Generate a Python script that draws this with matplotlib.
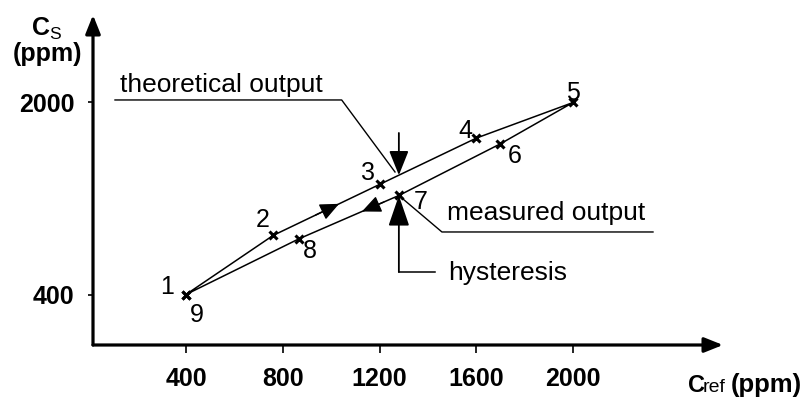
import matplotlib
matplotlib.use("Agg")
import matplotlib.pyplot as plt

plt.rcParams['font.family'] = ['Liberation Sans', 'DejaVu Sans']
plt.rcParams['mathtext.fontset'] = 'custom'
plt.rcParams['mathtext.rm'] = 'Liberation Sans'

# ---- data ----
cref = [400, 760, 1200, 1600, 2000, 1700, 1280, 867, 400]
cs = [400, 892, 1317, 1703, 2000, 1656, 1225, 864, 400]
point_labels = ['1', '2', '3', '4', '5', '6', '7', '8', '9']
x_ticks = [400, 800, 1200, 1600, 2000]
x_tick_labels = ['400', '800', '1200', '1600', '2000']
y_ticks = [400, 2000]
y_tick_labels = ['400', '2000']

# label offsets (points) for each numbered point
label_offsets = [(-13.7, 5.4), (-7.2, 10.8), (-8.6, 8.6), (-7.9, 5.0), (0, 6.8),
                 (10.4, -9.0), (15.5, -5.0), (7.9, -8.6), (7.9, -14.8)]

fig = plt.figure(figsize=(8.07, 3.97), dpi=100)
ax = fig.add_axes([93/807, (397-345)/397, (723-93)/807, (345-15)/397])
ax.set_xlim(15.6, 2619.9)
ax.set_ylim(-20.8, 2729)
for s in ax.spines.values():
    s.set_visible(False)
ax.patch.set_visible(False)

# axes with arrows
axis_arrow = dict(arrowstyle='-|>,head_length=0.75,head_width=0.3',
                  lw=2.3, color='black', shrinkA=0, shrinkB=0, mutation_scale=15)
ax.annotate('', xy=(1, 0), xytext=(0, 0), xycoords='axes fraction',
            arrowprops=axis_arrow, annotation_clip=False)
ax.annotate('', xy=(0, 1), xytext=(0, 0), xycoords='axes fraction',
            arrowprops=axis_arrow, annotation_clip=False)

ax.set_xticks(x_ticks)
ax.set_xticklabels(x_tick_labels, fontsize=18, fontweight='bold')
ax.set_yticks(y_ticks)
ax.set_yticklabels(y_tick_labels, fontsize=18, fontweight='bold')
ax.tick_params(axis='x', direction='out', length=5.5, width=1.2, pad=10)
ax.tick_params(axis='y', direction='out', length=3.5, width=1.2, pad=10)

# hysteresis loop
ax.plot(cref, cs, color='black', lw=1.1, marker='x', ms=5.5, mew=2.2, clip_on=False)

for x, y, lab, (dx, dy) in zip(cref, cs, point_labels, label_offsets):
    ax.annotate(lab, xy=(x, y), xytext=(dx, dy), textcoords='offset points',
                ha='center', va='center', fontsize=18)

# direction arrows on the loop
def along(i, j, t):
    return (cref[i] + t*(cref[j]-cref[i]), cs[i] + t*(cs[j]-cs[i]))

small = dict(arrowstyle='-|>,head_length=0.9,head_width=0.4', lw=1.0,
             color='black', shrinkA=0, shrinkB=0, mutation_scale=13)
ax.annotate('', xy=along(1, 2, 0.62), xytext=along(1, 2, 0.40), arrowprops=small)
ax.annotate('', xy=along(6, 7, 0.37), xytext=along(6, 7, 0.15), arrowprops=small)

# hysteresis arrows at x of point 7
xh = cref[6]
upper_at_xh = cs[2] + (xh - cref[2]) * (cs[3]-cs[2]) / (cref[3]-cref[2])
big_down = dict(arrowstyle='-|>,head_length=1.5,head_width=0.6', lw=1.3,
                color='black', shrinkA=0, shrinkB=0, mutation_scale=10)
big_up = dict(arrowstyle='-|>,head_length=1.9,head_width=0.65', lw=1.3,
              color='black', shrinkA=0, shrinkB=0, mutation_scale=10)
ax.annotate('', xy=(xh, upper_at_xh), xytext=(xh, 1746), arrowprops=big_down)
ax.annotate('', xy=(xh, cs[6]), xytext=(xh, 587.5), arrowprops=big_up)
ax.plot([xh, 1429], [587.5, 587.5], color='black', lw=1.1)
ax.text(1483, 521, 'hysteresis', fontsize=19, ha='left', va='baseline')

# theoretical output leader
ax.plot([106.5, 1043.6, 1264], [2021, 2021, 1421], color='black', lw=1.0)
ax.text(127, 2090, 'theoretical output', fontsize=19, ha='left', va='baseline')

# measured output leader
ax.plot([cref[6], 1458, 2330.5], [cs[6], 921, 921], color='black', lw=1.0, clip_on=False)
ax.text(1479, 1021, 'measured output', fontsize=19, ha='left', va='baseline')

# axis labels
fig.text(47/807, 1-61/397, 'C$_{\\mathrm{S}}$\n(ppm)', fontsize=18, fontweight='bold',
         ha='center', va='baseline', multialignment='center', linespacing=1.0)

fig.text(688/807, 1-391.7/397, 'C', fontsize=17, fontweight='bold', ha='left', va='baseline')
fig.text(703/807, 1-391.7/397, 'ref', fontsize=14, ha='left', va='baseline')
fig.text(731/807, 1-391.7/397, '(ppm)', fontsize=18.5, fontweight='bold', ha='left', va='baseline')

fig.savefig('out.png', dpi=100)
